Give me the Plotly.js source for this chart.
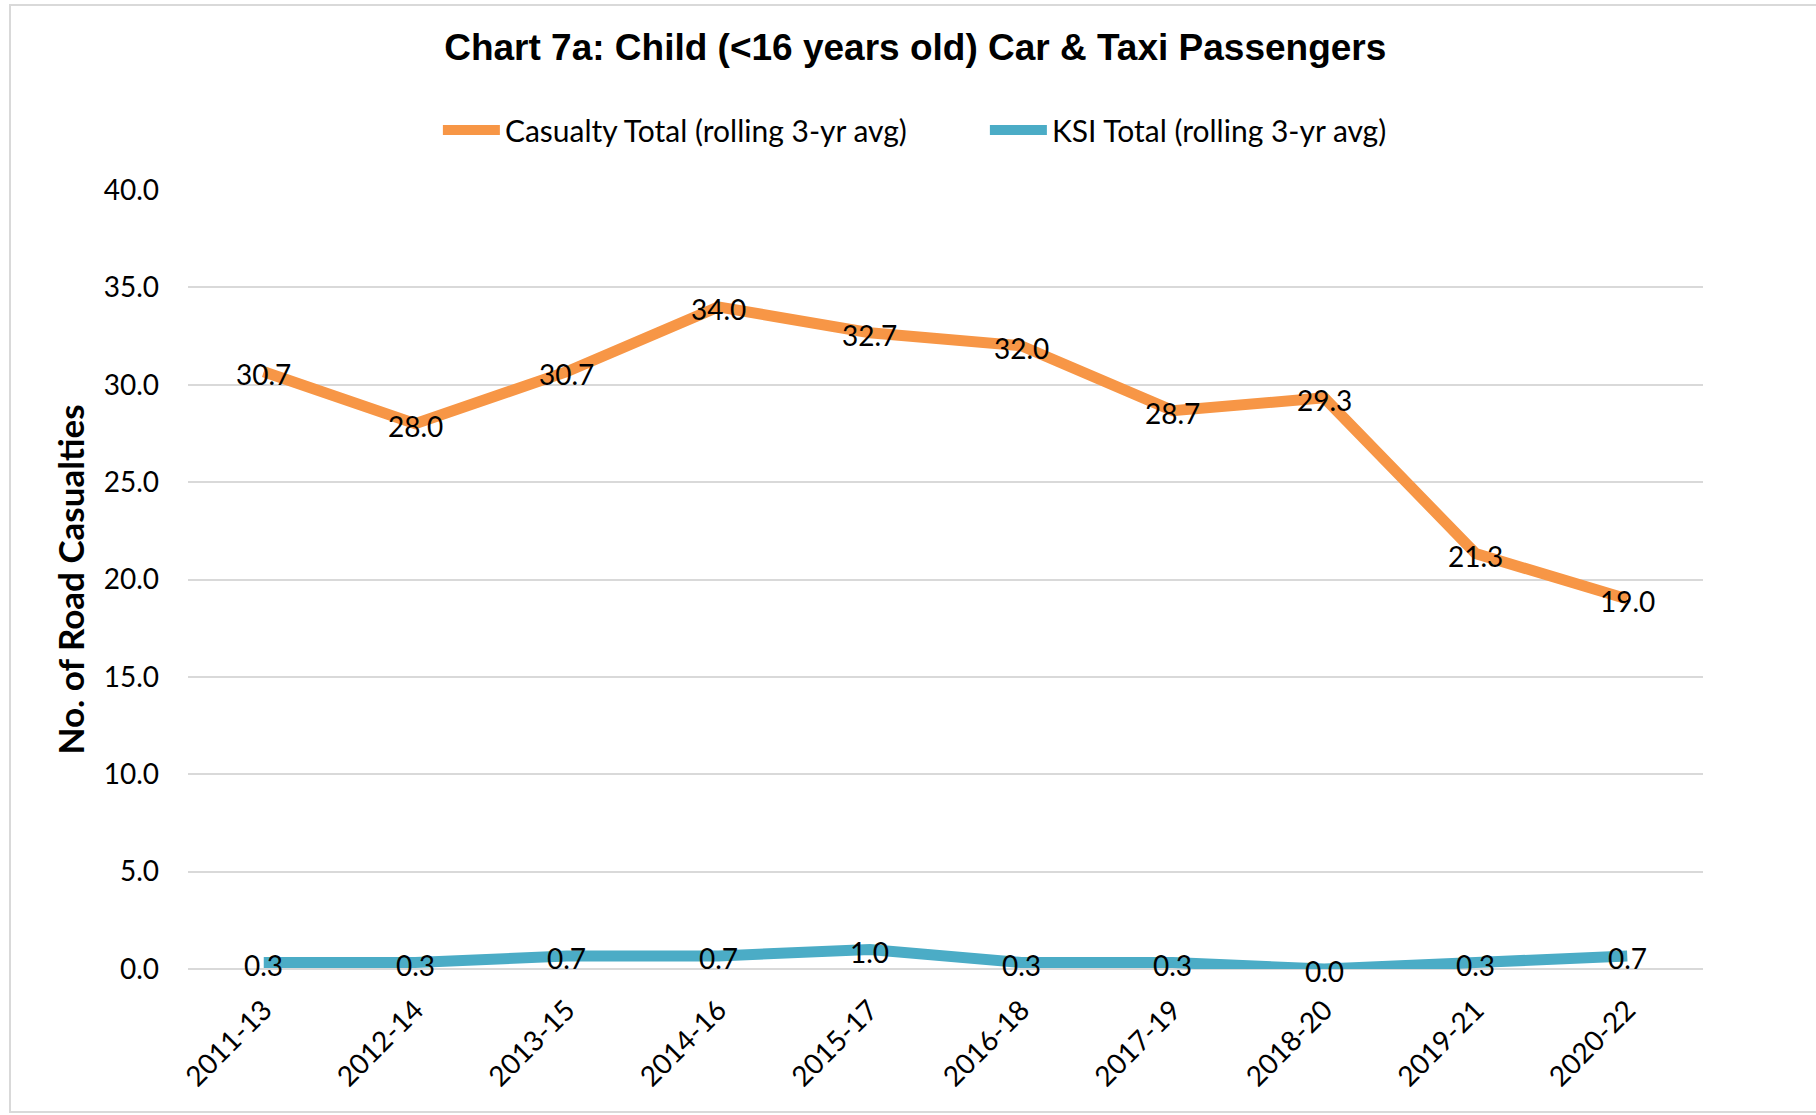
<!DOCTYPE html>
<html>
<head>
<meta charset="utf-8">
<script src="https://cdn.plot.ly/plotly-3.0.1.min.js"></script>
<style>
html,body{margin:0;padding:0;background:#fff;}
#chart{position:absolute;left:0;top:0;width:1816px;height:1115px;}
#frame{position:absolute;left:9px;top:4px;width:1830px;height:1105px;border:2px solid #d9d9d9;pointer-events:none;}
</style>
</head>
<body>
<div id="chart"></div>
<div id="frame"></div>
<script>
const categories = ['2011-13','2012-14','2013-15','2014-16','2015-17','2016-18','2017-19','2018-20','2019-21','2020-22'];
const casualtyTotal = [30.67, 28.0, 30.67, 34.0, 32.67, 32.0, 28.67, 29.33, 21.33, 19.0];
const ksiTotal = [0.33, 0.33, 0.67, 0.67, 1.0, 0.33, 0.33, 0.0, 0.33, 0.67];
const yTickVals = [0, 5, 10, 15, 20, 25, 30, 35, 40];

const labelFont = {family: 'Lato, sans-serif', size: 28, color: '#000'};

const traces = [
  {
    x: categories, y: casualtyTotal, name: 'Casualty Total (rolling 3-yr avg)',
    type: 'scatter', mode: 'lines',
    line: {color: '#F79646', width: 11},
    hoverinfo: 'skip', cliponaxis: false
  },
  {
    x: categories, y: ksiTotal, name: 'KSI Total (rolling 3-yr avg)',
    type: 'scatter', mode: 'lines',
    line: {color: '#4BACC6', width: 11},
    hoverinfo: 'skip', cliponaxis: false
  }
];

function labelsFor(values) {
  return values.map((v, i) => ({
    x: categories[i], y: v, xref: 'x', yref: 'y',
    text: v.toFixed(1), showarrow: false, font: labelFont,
    xanchor: 'center', yanchor: 'middle', yshift: -2
  }));
}
const annotations = labelsFor(casualtyTotal).concat(labelsFor(ksiTotal));

const layout = {
  width: 1816, height: 1115,
  paper_bgcolor: 'rgba(0,0,0,0)', plot_bgcolor: 'rgba(0,0,0,0)',
  margin: {l: 188, r: 113, t: 190, b: 146},
  title: {
    text: 'Chart 7a: Child (<16 years old) Car & Taxi Passengers',
    font: {family: 'Liberation Sans, Arial, sans-serif', size: 37, color: '#000', weight: 'bold'},
    x: 0.504, xanchor: 'center', y: 0.958, yanchor: 'middle', yref: 'container'
  },
  showlegend: true,
  legend: {
    orientation: 'h', x: 0.526, xanchor: 'center', y: 1.077, yanchor: 'middle',
    font: {family: 'Lato, sans-serif', size: 30, color: '#000'},
    itemwidth: 57, entrywidth: 475, entrywidthmode: 'pixels', tracegroupgap: 0
  },
  annotations: annotations,
  xaxis: {
    type: 'category', range: [-0.5, categories.length - 0.5], tickangle: -45,
    tickfont: {family: 'Lato, sans-serif', size: 28, color: '#000'},
    showgrid: false, zeroline: false, showline: false, ticks: '',
    ticklabelstandoff: 18, fixedrange: true
  },
  yaxis: {
    range: [0, 40], tickvals: yTickVals, tickformat: '.1f',
    tickfont: {family: 'Lato, sans-serif', size: 28, color: '#000'},
    showgrid: true, gridcolor: '#d9d9d9', gridwidth: 2,
    zeroline: true, zerolinecolor: '#d9d9d9', zerolinewidth: 2,
    showline: false, ticks: '', ticklabelstandoff: 28, fixedrange: true,
    title: {
      text: 'No. of Road Casualties',
      font: {family: 'Lato, sans-serif', size: 35, color: '#000', weight: 'bold'},
      standoff: 8
    }
  },
  hovermode: false
};

Plotly.newPlot('chart', traces, layout, {displayModeBar: false, staticPlot: true});
</script>
</body>
</html>
